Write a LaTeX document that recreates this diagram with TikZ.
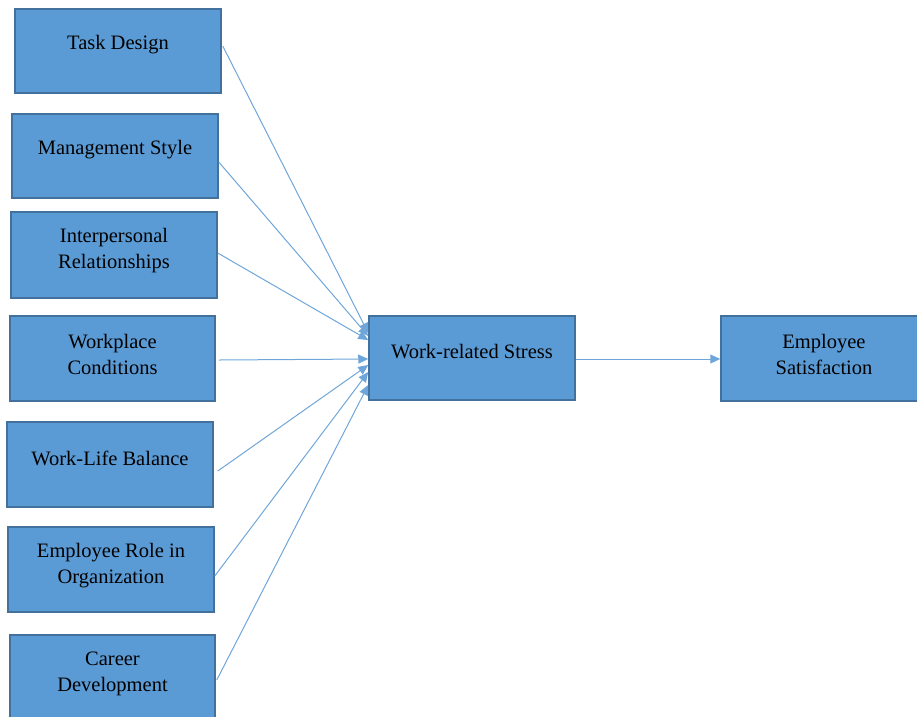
\documentclass[tikz,border=0pt]{standalone}
\usepackage{fontspec}
\setmainfont{Liberation Serif}
\usetikzlibrary{arrows.meta,calc}
\definecolor{boxfill}{HTML}{5B9BD5}
\definecolor{boxline}{HTML}{41719C}
\definecolor{arrowc}{HTML}{6FA6DA}
\tikzset{
  box/.style={draw=boxline, line width=1.5pt, fill=boxfill, rectangle, inner sep=0pt,
    minimum width=206pt, minimum height=85pt},
  lbl/.style={align=center, text=black, inner sep=0pt,
    font=\fontsize{20.5}{26}\selectfont},
  arr/.style={draw=arrowc, line width=1pt, -{Triangle[length=10pt,width=9pt]}}
}
\begin{document}
\begin{tikzpicture}[x=1pt,y=-1pt]
\useasboundingbox (0,0) rectangle (917,716);
\clip (0,0) rectangle (917,716);
\node[box, minimum height=84pt, label={[lbl,yshift=6pt]center:Task Design}] (td) at (118,51) {};
\node[box, minimum height=84pt, label={[lbl,yshift=6pt]center:Management Style}] (ms) at (115,156) {};
\node[box, minimum height=86pt, label={[lbl,yshift=4pt]center:Interpersonal\\Relationships}] (ir) at (114,255) {};
\node[box, minimum width=205pt, label={[lbl,yshift=4pt]center:Workplace\\Conditions}] (wc) at (112.5,358.5) {};
\node[box, label={[lbl,yshift=6pt]center:Work-Life Balance}] (wl) at (110,464.5) {};
\node[box, label={[lbl,yshift=4pt]center:Employee Role in\\Organization}] (er) at (111,569.5) {};
\node[box, minimum width=205pt, label={[lbl,yshift=4pt]center:Career\\Development}] (cd) at (112.5,677.5) {};
\node[box, minimum height=84pt, label={[lbl,yshift=6pt]center:Work-related Stress}] (ws) at (472,358) {};
\node[box, label={[lbl,yshift=4pt]center:Employee\\Satisfaction}] (es) at (824,358.5) {};

\draw[arr] ([xshift=1pt,yshift=5pt]td.east) -- ([yshift=25pt]ws.west);
\draw[arr] ([yshift=-6pt]ms.east) -- ([yshift=22pt]ws.west);
\draw[arr] ([yshift=2pt]ir.east) -- ([yshift=18pt]ws.west);
\draw[arr] ([xshift=3pt,yshift=-1.5pt]wc.east) -- ([yshift=-1pt]ws.west);
\draw[arr] ([xshift=4pt,yshift=-6.5pt]wl.east) -- ([yshift=-7pt]ws.west);
\draw[arr] ([yshift=-6.5pt]er.east) -- ([yshift=-14pt]ws.west);
\draw[arr] ([xshift=1pt,yshift=-2.5pt]cd.east) -- ([yshift=-27pt]ws.west);
\draw[arr] ([yshift=-1pt]ws.east) -- ([yshift=-0.5pt]es.west);
\end{tikzpicture}
\end{document}
